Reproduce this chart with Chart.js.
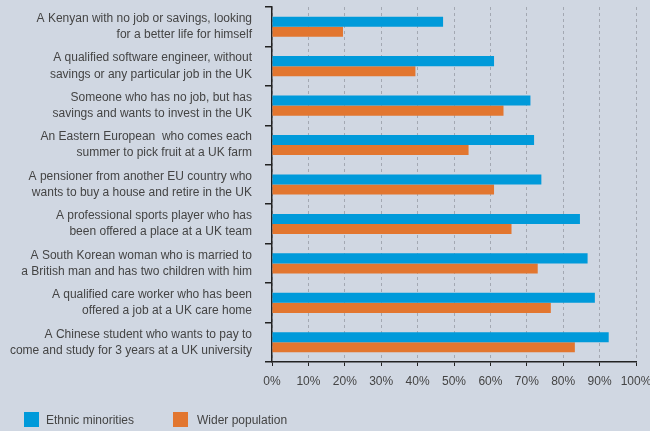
<!DOCTYPE html>
<html>
<head>
<meta charset="utf-8">
<script src="https://cdn.jsdelivr.net/npm/chart.js@4"></script>
<style>
  html, body { margin: 0; padding: 0; background: #D0D7E2; }
  .wrap { position: relative; width: 650px; height: 431px; }
  .legend { position: absolute; top: 412px; height: 15px; font: 12px "Liberation Sans", Arial, sans-serif; color: #444; line-height: 15px; }
  .legend span.box { position: absolute; left: 0; top: 0; width: 15px; height: 15px; }
  .legend span.txt { position: absolute; white-space: nowrap; top: 1px; }
</style>
</head>
<body>
<div class="wrap">
  <canvas id="chart" width="650" height="431"></canvas>
  <div class="legend" style="left:24px"><span class="box" style="background:#009ADA"></span><span class="txt" style="left:22px">Ethnic minorities</span></div>
  <div class="legend" style="left:173px"><span class="box" style="background:#E2762F"></span><span class="txt" style="left:24px">Wider population</span></div>
</div>
<script>
const categories = [
  ['A Kenyan with no job or savings, looking', 'for a better life for himself'],
  ['A qualified software engineer, without', 'savings or any particular job in the UK'],
  ['Someone who has no job, but has', 'savings and wants to invest in the UK'],
  ['An Eastern European  who comes each', 'summer to pick fruit at a UK farm'],
  ['A pensioner from another EU country who', 'wants to buy a house and retire in the UK'],
  ['A professional sports player who has', 'been offered a place at a UK team'],
  ['A South Korean woman who is married to', 'a British man and has two children with him'],
  ['A qualified care worker who has been', 'offered a job at a UK care home'],
  ['A Chinese student who wants to pay to', 'come and study for 3 years at a UK university']
];
const ethnicMinorities = [47, 61, 71, 72, 74, 84.6, 86.7, 88.7, 92.5];
const widerPopulation = [19.5, 39.4, 63.6, 54, 61, 65.8, 73, 76.6, 83.2];
const xTicks = [0, 10, 20, 30, 40, 50, 60, 70, 80, 90, 100];

const font = { family: '"Liberation Sans", Arial, sans-serif', size: 12 };

new Chart(document.getElementById('chart').getContext('2d'), {
  type: 'bar',
  data: {
    labels: categories,
    datasets: [{
      label: 'Ethnic minorities',
      data: ethnicMinorities,
      backgroundColor: '#009ADA',
      categoryPercentage: 0.51,
      barPercentage: 1
    }, {
      label: 'Wider population',
      data: widerPopulation,
      backgroundColor: '#E2762F',
      categoryPercentage: 0.51,
      barPercentage: 1
    }]
  },
  options: {
    indexAxis: 'y',
    responsive: false,
    animation: false,
    layout: { padding: { top: 7, right: 14, left: 0, bottom: 0 } },
    scales: {
      x: {
        min: 0,
        max: 100,
        afterBuildTicks: (scale) => { scale.ticks = xTicks.map(v => ({ value: v })); },
        afterFit: (scale) => {
          scale.height = 69;
          scale.paddingLeft = 0;
          scale.paddingRight = 0;
        },
        ticks: {
          callback: (v) => v + '%',
          color: '#444',
          font: font,
          padding: 8,
          maxRotation: 0,
          minRotation: 0,
          autoSkip: false
        },
        grid: {
          color: '#A3A8B2',
          lineWidth: 1,
          tickColor: '#222',
          tickLength: 4,
          tickBorderDash: []
        },
        border: { color: '#222', width: 1.5, dash: [3, 3] }
      },
      y: {
        afterFit: (scale) => {
          scale.width = 272;
          scale.paddingTop = 0;
          scale.paddingBottom = 0;
        },
        ticks: {
          color: '#444',
          font: { family: font.family, size: 12, lineHeight: 1.34 },
          padding: 13
        },
        grid: {
          offset: true,
          drawOnChartArea: false,
          color: '#222',
          tickLength: 7,
          lineWidth: 1.5
        },
        border: { color: '#222', width: 1.5 }
      }
    },
    plugins: {
      legend: { display: false },
      tooltip: { enabled: false }
    }
  }
});
</script>
</body>
</html>
